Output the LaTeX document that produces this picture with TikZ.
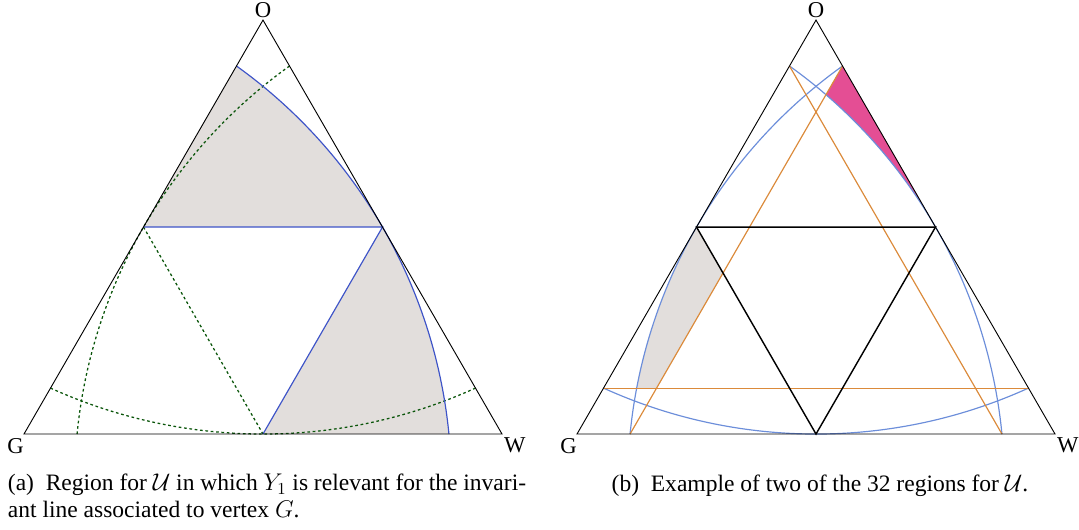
\documentclass[tikz,border=0pt]{standalone}
\usepackage{fontspec}
\setmainfont{Liberation Serif}
\usepackage{amsmath,amssymb}
\usepackage{xcolor}
\usetikzlibrary{calc,positioning}

\definecolor{regiongray}{RGB}{226,222,220}
\definecolor{arcblue}{RGB}{62,84,200}
\definecolor{lightarc}{RGB}{108,142,218}
\definecolor{chordorange}{RGB}{219,138,58}
\definecolor{regionpink}{RGB}{228,78,148}
\definecolor{dotgreen}{RGB}{10,85,10}

% arc data for side 10: centre offset, radius, chord point, half opening
\def\cdist{2.0973}
\def\crad{10.7576}
\def\cpt{8.89}
\def\chalf{24.406}

\begin{document}
\begin{tikzpicture}[
	side/.style={line width=0.55pt},
	vlabel/.style={inner sep=0pt,font=\fontsize{13.5}{15}\selectfont},
	capt/.style={inner sep=0pt,font=\fontsize{14}{16.2}\selectfont},
	bluline/.style={arcblue,line width=0.7pt},
	dotline/.style={dotgreen,line width=0.75pt,dash pattern=on 1.6pt off 1.6pt},
	lightline/.style={lightarc,line width=0.7pt},
	chord/.style={chordorange,line width=0.7pt},
	medial/.style={line width=0.85pt}]
	\useasboundingbox (-0.502,-1.987) rectangle (22.071,9.080);
	
	% ---------- (a) ----------
	\coordinate (Ga) at (0,0);
	\coordinate (Wa) at (10,0);
	\coordinate (Oa) at (5,8.660);
	\coordinate (mGOa) at ($(Ga)!0.5!(Oa)$);
	\coordinate (mOWa) at ($(Oa)!0.5!(Wa)$);
	\coordinate (mGWa) at ($(Ga)!0.5!(Wa)$);
	
	% grey regions
	\fill[regiongray] (mGOa) -- ($(Ga)+(60:\cpt)$) arc[start angle=30+\chalf, end angle=30, radius=\crad] -- cycle;
	\fill[regiongray] (mOWa) arc[start angle=30, end angle=30-\chalf, radius=\crad] -- (mGWa) -- cycle;
	
	% dotted arcs for W and O
	\draw[dotline] ($(Wa)+(120:\cpt)$) arc[start angle=150-\chalf, end angle=150+\chalf, radius=\crad];
	\draw[dotline] ($(Oa)+(240:\cpt)$) arc[start angle=270-\chalf, end angle=270+\chalf, radius=\crad];
	\draw[dotline] (mGOa) -- (mGWa);
	
	% arc for G
	\draw[bluline] ($(Ga)+(0:\cpt)$) arc[start angle=30-\chalf, end angle=30+\chalf, radius=\crad];
	\draw[bluline] (mGOa) -- (mOWa) -- (mGWa);
	
	\draw[side] (Ga) -- (Wa) -- (Oa) -- cycle;
	
	\node[vlabel, below left=2.2pt and 0pt of Ga] (labGa) {G};
	\node[vlabel, below right=2.2pt and 1pt of Wa] (labWa) {W};
	\node[vlabel, above=1.2pt of Oa] (labOa) {O};
	
	\node[capt, anchor=north west, text width=10.84cm, align=justify] (capa) at (-0.343,-0.83)
		{(a)\enspace Region for $\mathcal{U}$ in which $Y_1$ is relevant for the invari-\linebreak ant line associated to vertex $G$.};
	
	% ---------- (b) ----------
	\begin{scope}[xshift=11.569cm]
	\coordinate (Gb) at (0,0);
	\coordinate (Wb) at (10,0);
	\coordinate (Ob) at (5,8.660);
	\coordinate (mGOb) at ($(Gb)!0.5!(Ob)$);
	\coordinate (mOWb) at ($(Ob)!0.5!(Wb)$);
	\coordinate (mGWb) at ($(Gb)!0.5!(Wb)$);
	
	% chord ends
	\coordinate (gOb) at ($(Gb)+(60:\cpt)$);
	\coordinate (gWb) at ($(Gb)+(0:\cpt)$);
	\coordinate (wOb) at ($(Wb)+(120:\cpt)$);
	\coordinate (wGb) at ($(Wb)+(180:\cpt)$);
	\coordinate (oGb) at ($(Ob)+(240:\cpt)$);
	\coordinate (oWb) at ($(Ob)+(300:\cpt)$);
	
	% grey region
	\begin{scope}
		\clip ($(Wb)+(330:\cdist)$) circle[radius=\crad];
		\fill[regiongray] (mGOb) -- (intersection of mGOb--mGWb and wOb--wGb)
			-- (intersection of wOb--wGb and oGb--oWb) -- (oGb) -- cycle;
	\end{scope}
	
	% pink region
	\begin{scope}
		\clip (wOb) -- (mOWb) -- (intersection of wOb--wGb and mGOb--mOWb) -- cycle;
		\fill[regionpink, even odd rule] ($(Gb)+(210:\cdist)$) circle[radius=\crad] (-2,-2) rectangle (12,10);
	\end{scope}
	
	% arcs
	\draw[lightline] (gWb) arc[start angle=30-\chalf, end angle=30+\chalf, radius=\crad];
	\draw[lightline] (wOb) arc[start angle=150-\chalf, end angle=150+\chalf, radius=\crad];
	\draw[lightline] (oGb) arc[start angle=270-\chalf, end angle=270+\chalf, radius=\crad];
	
	% chords
	\draw[chord] (gOb) -- (gWb);
	\draw[chord] (wOb) -- (wGb);
	\draw[chord] (oGb) -- (oWb);
	
	\draw[medial] (mGOb) -- (mOWb) -- (mGWb) -- cycle;
	\draw[side] (Gb) -- (Wb) -- (Ob) -- cycle;
	
	\node[vlabel, below left=2.2pt and 0pt of Gb] (labGb) {G};
	\node[vlabel, below right=2.2pt and 1pt of Wb] (labWb) {W};
	\node[vlabel, above=1.2pt of Ob] (labOb) {O};
	\end{scope}
	
	\node[capt, anchor=base] (capb) at (16.653,-1.207)
		{(b)\enspace Example of two of the 32 regions for $\mathcal{U}$.};
\end{tikzpicture}
\end{document}
